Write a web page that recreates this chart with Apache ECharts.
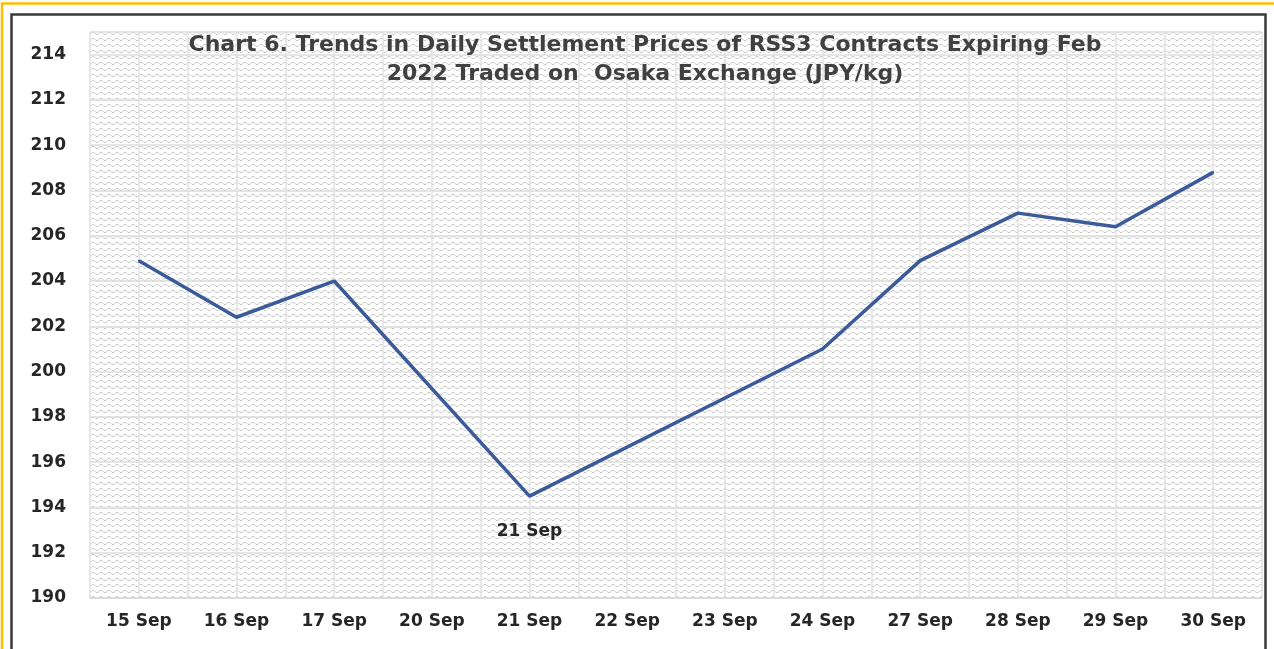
<!DOCTYPE html>
<html>
<head>
<meta charset="utf-8">
<title>Chart 6</title>
<script src="https://cdn.jsdelivr.net/npm/echarts@6/dist/echarts.min.js"></script>
<style>
  html, body { margin: 0; padding: 0; background: #fff; }
  #chart { width: 1274px; height: 649px; }
</style>
</head>
<body>
<div id="chart"></div>
<script>
// trading days, gaps (20, 22, 23 Sep) have no settlement shown, line is joined over them
const days = ['15 Sep', '16 Sep', '17 Sep', '20 Sep', '21 Sep', '22 Sep', '23 Sep', '24 Sep', '27 Sep', '28 Sep', '29 Sep', '30 Sep']
const prices = [204.9, 202.4, 204.0, null, 194.5, null, null, 201.0, 204.9, 207.0, 206.4, 208.8]
const labelled = ['21 Sep']

const yMin = 190
const yMax = 215
const yStep = 2

// wave fill like the excel plot area
const tile = document.createElement('canvas')
tile.width = 8
tile.height = 6
const ctx = tile.getContext('2d')
ctx.strokeStyle = '#c8c8c8'
ctx.lineWidth = 1
ctx.beginPath()
ctx.moveTo(0, 4.5)
ctx.lineTo(2, 4.5)
ctx.lineTo(4, 2.5)
ctx.lineTo(6, 2.5)
ctx.lineTo(8, 4.5)
ctx.stroke()

const font = 'DejaVu Sans'
const lineColor = '#3b5a9a'

const chart = echarts.init(document.getElementById('chart'))

chart.setOption({
  animation: false,
  title: {
    text: 'Chart 6. Trends in Daily Settlement Prices of RSS3 Contracts Expiring Feb\n2022 Traded on  Osaka Exchange (JPY/kg)',
    left: 640,
    top: 26,
    textAlign: 'center',
    textStyle: {
      fontFamily: font,
      fontWeight: 'bold',
      fontSize: 22,
      lineHeight: 29,
      color: '#404040',
    },
  },
  graphic: [
    {
      type: 'rect',
      silent: true,
      shape: { x: 2, y: 3.5, width: 1290, height: 700 },
      style: { fill: 'none', stroke: '#ffc000', lineWidth: 2.5 },
    },
    {
      type: 'rect',
      silent: true,
      shape: { x: 11.5, y: 14.5, width: 1254, height: 700 },
      style: { fill: 'none', stroke: '#3a3a3a', lineWidth: 2.5 },
    },
  ],
  grid: {
    left: 90,
    right: 12,
    top: 32,
    bottom: 51,
    show: true,
    borderWidth: 0,
    backgroundColor: { image: tile, repeat: 'repeat' },
  },
  xAxis: [
    {
      type: 'category',
      data: days,
      boundaryGap: true,
      axisLine: { show: true, lineStyle: { color: '#d9d9d9', width: 1.5 } },
      axisTick: { show: false },
      splitLine: { show: false },
      axisLabel: {
        margin: 15,
        fontFamily: font,
        fontWeight: 'bold',
        fontSize: 17,
        color: '#262626',
      },
    },
    {
      // half-category vertical grid lines
      type: 'value',
      min: 0,
      max: days.length * 2,
      interval: 1,
      position: 'bottom',
      axisLine: { show: false },
      axisTick: { show: false },
      axisLabel: { show: false },
      splitLine: { show: true, lineStyle: { color: '#e2e2e2', width: 1.5 } },
    },
  ],
  yAxis: {
    type: 'value',
    min: yMin,
    max: yMax,
    interval: yStep,
    axisLine: { show: false },
    axisTick: { show: false },
    splitLine: { show: true, lineStyle: { color: '#dcdcdc', width: 1.5 } },
    axisLabel: {
      showMaxLabel: false,
      margin: 24,
      fontFamily: font,
      fontWeight: 'bold',
      fontSize: 17,
      color: '#262626',
    },
  },
  series: [
    {
      type: 'line',
      xAxisIndex: 0,
      connectNulls: true,
      symbol: 'circle',
      symbolSize: 2,
      showAllSymbol: true,
      itemStyle: { color: lineColor },
      lineStyle: { color: lineColor, width: 3.5 },
      data: prices.map((v, i) => {
        if (!labelled.includes(days[i])) return v
        return {
          value: v,
          label: {
            show: true,
            position: 'bottom',
            distance: 26,
            formatter: days[i],
            fontFamily: font,
            fontWeight: 'bold',
            fontSize: 17,
            color: '#262626',
          },
        }
      }),
    },
  ],
})
</script>
</body>
</html>
